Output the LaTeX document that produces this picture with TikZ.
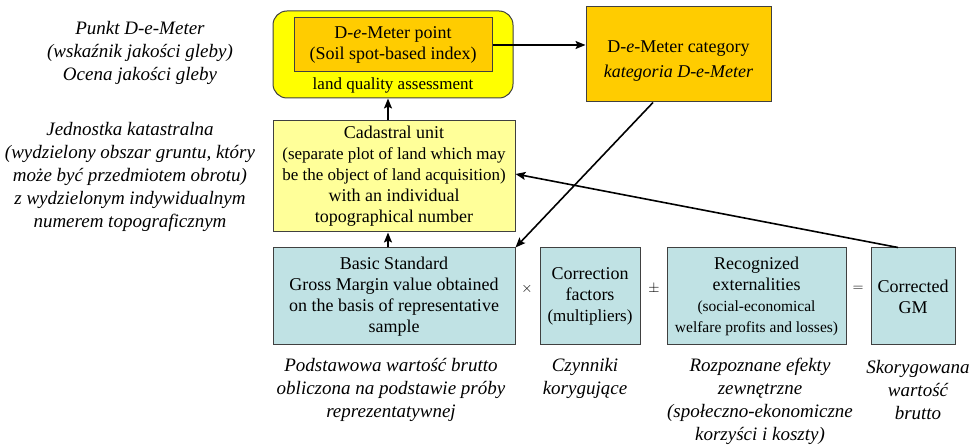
\documentclass[tikz,border=0pt]{standalone}
\usepackage{fontspec}
\setmainfont{Liberation Serif}
\usetikzlibrary{arrows.meta}

\definecolor{brightyellow}{HTML}{FFFF00}
\definecolor{gold}{HTML}{FFCC00}
\definecolor{paleyellow}{HTML}{FFFF99}
\definecolor{paleteal}{HTML}{C0E2E4}
\definecolor{boxline}{HTML}{404040}

\newcommand\sz[2]{\fontsize{#1}{#2}\selectfont}

\begin{document}
\begin{tikzpicture}[x=1pt,y=-1pt,
  box/.style={draw=boxline, line width=1pt, inner sep=2pt, align=center, font=\sz{18}{21}},
  txt/.style={inner sep=0pt, align=center, font=\sz{18}{21}},
  note/.style={inner sep=0pt, align=center, font=\sz{19}{23}\itshape},
  arr/.style={line width=1.6pt, -{Stealth[length=10pt,width=8pt,inset=2pt]}},
  op/.style={inner sep=0pt, font=\sz{14}{16}}
]
\useasboundingbox (0,0) rectangle (975,446);

% soil quality block
\node[box, fill=brightyellow, rounded corners=14pt, minimum width=240pt, minimum height=87pt] (outer) at (393,54.5) {};
\node[box, fill=gold, minimum width=198pt, minimum height=54pt] (pt) at (393,45)
  {D-\textit{e}-Meter point\\(Soil spot-based index)};
\node[txt, font=\sz{17}{20}] (lqa) at (393,85) {land quality assessment};

% category
\node[box, fill=gold, minimum width=185pt, minimum height=95pt] (cat) at (678.5,54.5) {};
\node[txt, font=\sz{18}{25}] (catt) at (678.5,61) {D-\textit{e}-Meter category\\\textit{kategoria D-e-Meter}};

% cadastral unit
\node[box, fill=paleyellow, minimum width=242pt, minimum height=111pt] (cad) at (394,176.5)
  {Cadastral unit\\{\sz{17}{21}(separate plot of land which may}\\{\sz{17}{21}be the object of land acquisition)}\\with an individual\\topographical number};

% formula row
\node[box, fill=paleteal, minimum width=242pt, minimum height=97pt] (basic) at (394,296.5)
  {Basic Standard\\Gross Margin value obtained\\on the basis of representative\\sample};
\node[box, fill=paleteal, minimum width=100pt, minimum height=97pt] (corr) at (590,296.5)
  {Correction\\factors\\{\sz{17}{20}(multipliers)}};
\node[box, fill=paleteal, minimum width=179pt, minimum height=97pt] (rec) at (756.5,296.5)
  {Recognized\\externalities\\{\sz{15.5}{19}(social-economical}\\{\sz{15.5}{19}welfare profits and losses)}};
\node[box, fill=paleteal, minimum width=84pt, minimum height=97pt] (gm) at (913,296.5)
  {Corrected\\GM};

\node[op] (times) at (527,289) {$\times$};
\node[op] (pm) at (654,289) {$\pm$};
\node[op] (eq) at (858,289) {$=$};

% Polish descriptions
\node[note] (n1) at (140,52.5) {Punkt D-e-Meter\\(wskaźnik jakości gleby)\\Ocena jakości gleby};
\node[note] (n2) at (130,177) {Jednostka katastralna\\(wydzielony obszar gruntu, który\\może być przedmiotem obrotu)\\z wydzielonym indywidualnym\\numerem topograficznym};
\node[note] (n3) at (391,389.5) {Podstawowa wartość brutto\\obliczona na podstawie próby\\reprezentatywnej};
\node[note] (n4) at (585,378.5) {Czynniki\\korygujące};
\node[note] (n5) at (760,401.5) {Rozpoznane efekty\\zewnętrzne\\(społeczno-ekonomiczne\\korzyści i koszty)};
\node[note] (n6) at (918,390) {Skorygowana\\wartość\\brutto};

% connectors
\draw[arr] (pt.east) -- (pt.east -| cat.west);
\draw[arr] ([xshift=-6pt]cad.north) -- ([xshift=-6pt]cad.north |- outer.south);
\draw[arr] ([xshift=-6pt]basic.north) -- ([xshift=-6pt]basic.north |- cad.south);
\draw[arr] ([xshift=-25.5pt]cat.south) -- (basic.north east);
\draw[arr] ([xshift=-15pt]gm.north) -- ([yshift=2.5pt]cad.east);
\end{tikzpicture}
\end{document}
